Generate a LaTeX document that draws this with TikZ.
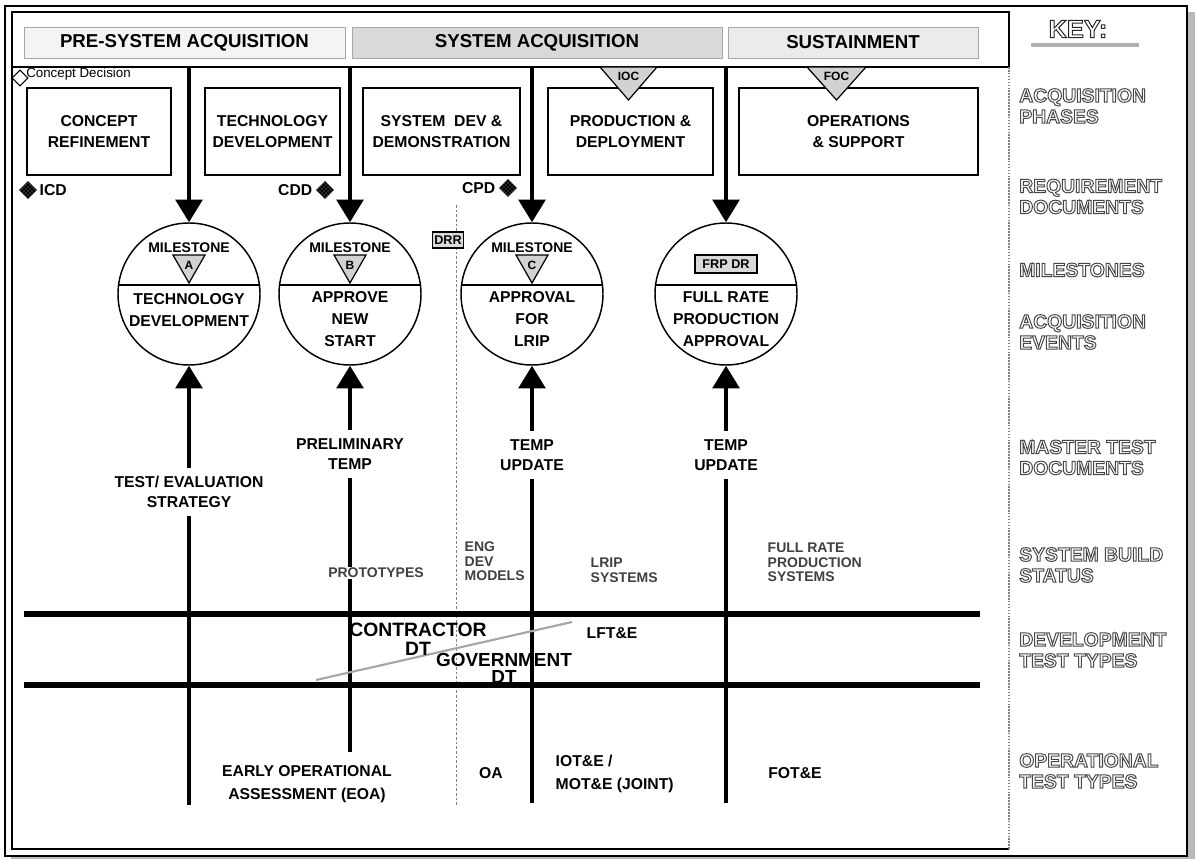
\documentclass[tikz,border=0pt]{standalone}
\usepackage{fontspec}
\setmainfont{Liberation Sans}
\usetikzlibrary{arrows.meta,calc,shapes.geometric,patterns}

% outlined (hollow) lettering for the key column
\newcommand\outl[1]{\special{pdf:literal direct 1 Tr 0.75 w}#1\special{pdf:literal direct 0 Tr 1 w}}

\tikzset{
  band/.style={draw=gray!70, minimum height=23.25pt, font=\bfseries\fontsize{14}{16}\selectfont},
  phase/.style={draw, line width=1.1pt, minimum height=65.25pt, align=center, font=\bfseries\fontsize{11.8}{15.75}\selectfont},
  milestone/.style={circle, draw, line width=1.1pt, minimum size=106.5pt, inner sep=0pt},
  bigarrow/.style={line width=3pt, -{Triangle[width=20pt,length=17pt]}},
  evt/.style={align=center, font=\bfseries\fontsize{11.8}{16.5}\selectfont},
  lbl/.style={align=center, font=\bfseries\fontsize{11.8}{15}\selectfont},
  build/.style={align=left, text=black!75, font=\bfseries\fontsize{10.5}{10.9}\selectfont},
  keytxt/.style={anchor=west, align=left, inner sep=0pt, text=black!72, font=\bfseries\fontsize{14.5}{15.75}\selectfont},
  reqdoc/.style={diamond, draw, fill=black, inner sep=0pt, minimum size=12.75pt, postaction={pattern=crosshatch dots, pattern color=white!70!black}},
  testline/.style={line width=3pt},
  dtline/.style={line width=5pt},
  gatebox/.style={draw, line width=0.9pt, fill=gray!30, inner sep=1.5pt, font=\bfseries\fontsize{9.5}{10}\selectfont},
}

\begin{document}
\begin{tikzpicture}[x=0.75pt,y=-0.75pt]
  \useasboundingbox (0,0) rectangle (1195,859);
  % frame and shadow
  \fill[gray!55] (11,12) rectangle (1195,859);
  \draw[line width=1.3pt, fill=white] (5,6) rectangle (1187,856);
  \draw[line width=1.5pt] (1009,67) -- (1009,12) -- (12,12) -- (12,849) -- (1009,849);
  \draw[line width=1.5pt] (12,67) -- (1009,67);
  \draw[gray, line width=1.2pt, densely dotted] (1009,67) -- (1009,849);

  % acquisition bands
  \node[band, fill=gray!9, minimum width=240.75pt] (pre) at (184.5,42.5) {PRE-SYSTEM ACQUISITION};
  \node[band, fill=gray!30, minimum width=277.5pt] (sys) at (537,42.5) {SYSTEM ACQUISITION};
  \node[band, fill=gray!16, minimum width=187.5pt] (sus) at (853,42.5) {SUSTAINMENT};

  % phases
  \node[phase, minimum width=108pt] (cr) at (99,131.5) {CONCEPT\\REFINEMENT};
  \node[phase, minimum width=101.25pt] (td) at (272.5,131.5) {TECHNOLOGY\\DEVELOPMENT};
  \node[phase, minimum width=117.75pt] (sdd) at (441.5,131.5) {SYSTEM\ \ DEV \&\\DEMONSTRATION};
  \node[phase, minimum width=123.75pt] (pd) at (630.5,131.5) {PRODUCTION \&\\DEPLOYMENT};
  \node[phase, minimum width=179.25pt] (os) at (858.5,131.5) {OPERATIONS\\\& SUPPORT};

  % IOC / FOC
  \draw[fill=gray!35, line width=0.9pt] (600,67) -- (657,67) -- (628.5,100) -- cycle;
  \node[font=\bfseries\fontsize{9}{10}\selectfont] (ioc) at (628.5,76) {IOC};
  \draw[fill=gray!35, line width=0.9pt] (807,67) -- (866,67) -- (836.5,100) -- cycle;
  \node[font=\bfseries\fontsize{9}{10}\selectfont] (foc) at (836.5,76) {FOC};

  % concept decision
  \node[diamond, draw, fill=white, line width=0.8pt, minimum size=12pt, inner sep=0pt] (cd) at (20,78) {};
  \node[anchor=west, inner sep=0pt, font=\fontsize{10}{12}\selectfont] (cdt) at (26,74) {Concept Decision};

  % requirement documents
  \node[reqdoc] (icdm) at (28,190) {};
  \node[lbl, anchor=west] (icd) at (35,190) {ICD};
  \node[reqdoc] (cddm) at (325,190) {};
  \node[lbl, anchor=east] (cdd) at (317,190) {CDD};
  \node[reqdoc] (cpdm) at (508,188) {};
  \node[lbl, anchor=east] (cpd) at (500,188) {CPD};

  % system dev split
  \coordinate (sdTop) at (456,205);
  \coordinate (sdBot) at (456,805);
  \draw[gray, line width=0.6pt, dash pattern=on 2pt off 1.5pt] (sdTop) -- (sdBot);
  \node[gatebox, minimum width=21pt, minimum height=12pt] (drr) at (448,240) {DRR};

  % milestones
  \node[milestone] (msA) at (189,294) {};
  \node[milestone] (msB) at (350,294) {};
  \node[milestone] (msC) at (532,294) {};
  \node[milestone] (msD) at (726,294) {};
  \foreach \m in {A,B,C,D}
    \draw[line width=1.1pt] ($(ms\m)+(-70.4,-9)$) -- ($(ms\m)+(70.4,-9)$);
  \foreach \m in {A,B,C} {
    \node[font=\bfseries\fontsize{10.5}{12}\selectfont] at ($(ms\m)+(0,-46)$) {MILESTONE};
    \draw[fill=gray!35, line width=0.9pt] ($(ms\m)+(-16,-39)$) -- ($(ms\m)+(16,-39)$) -- ($(ms\m)+(0,-11)$) -- cycle;
    \node[font=\bfseries\fontsize{9}{10}\selectfont] at ($(ms\m)+(0,-29)$) {\m};
  }
  \node[gatebox, minimum width=46.5pt, minimum height=13.5pt] (frp) at ($(msD)+(0,-30)$) {FRP DR};
  \node[evt] at ($(msA)+(0,16.5)$) {TECHNOLOGY\\DEVELOPMENT};
  \node[evt] at ($(msB)+(0,25)$) {APPROVE\\NEW\\START};
  \node[evt] at ($(msC)+(0,25)$) {APPROVAL\\FOR\\LRIP};
  \node[evt] at ($(msD)+(0,25)$) {FULL RATE\\PRODUCTION\\APPROVAL};

  % phase arrows
  \coordinate (hA) at (189,67);
  \coordinate (hB) at (350,67);
  \coordinate (hC) at (532,67);
  \coordinate (hD) at (726,67);
  \foreach \m in {A,B,C,D}
    \draw[bigarrow] (h\m) -- (ms\m.north);

  % master test documents
  \node[lbl] (tesA) at (189,492) {TEST/ EVALUATION\\STRATEGY};
  \node[lbl] (tmpB) at (350,454) {PRELIMINARY\\TEMP};
  \node[lbl] (tmpC) at (532,455) {TEMP\\UPDATE};
  \node[lbl] (tmpD) at (726,455) {TEMP\\UPDATE};
  \coordinate (eA) at (189,805);
  \coordinate (eB) at (350,752);
  \coordinate (eC) at (532,803);
  \coordinate (eD) at (726,803);
  \draw[bigarrow, shorten <=3pt] (tesA.north) -- (msA.south);
  \draw[bigarrow, shorten <=3pt] (tmpB.north) -- (msB.south);
  \draw[bigarrow, shorten <=3pt] (tmpC.north) -- (msC.south);
  \draw[bigarrow, shorten <=3pt] (tmpD.north) -- (msD.south);
  \draw[testline, shorten <=3pt] (tesA.south) -- (eA);
  \draw[testline, shorten <=3pt] (tmpB.south) -- (eB);
  \draw[testline, shorten <=3pt] (tmpC.south) -- (eC);
  \draw[testline, shorten <=3pt] (tmpD.south) -- (eD);

  % system build status
  \node[build, fill=white, inner sep=1pt] (proto) at (376,573) {PROTOTYPES};
  \node[build, anchor=west] (edm) at (460,561.5) {ENG\\DEV\\MODELS};
  \node[build, anchor=west] (lrip) at (586,570) {LRIP\\SYSTEMS};
  \node[build, anchor=west] (frps) at (763,562.5) {FULL RATE\\PRODUCTION\\SYSTEMS};

  % development test types
  \coordinate (dt1w) at (24,614);
  \coordinate (dt1e) at (980,614);
  \coordinate (dt2w) at (24,685);
  \coordinate (dt2e) at (980,685);
  \draw[dtline] (dt1w) -- (dt1e);
  \draw[dtline] (dt2w) -- (dt2e);
  \coordinate (dgA) at (316,680);
  \coordinate (dgB) at (572,622);
  \draw[gray!70, line width=1.6pt] (dgA) -- (dgB);
  \node[align=center, font=\bfseries\fontsize{14.5}{14.2}\selectfont] (cdt) at (418,639) {CONTRACTOR\\DT};
  \node[align=center, font=\bfseries\fontsize{14.2}{12.8}\selectfont] (gdt) at (504,668) {GOVERNMENT\\DT};
  \node[lbl] (lft) at (612,633) {LFT\&E};

  % operational test types
  \node[lbl, font=\bfseries\fontsize{11.8}{17.25}\selectfont] (eoa) at (307,784.5) {EARLY OPERATIONAL\\ASSESSMENT (EOA)};
  \node[lbl] (oa) at (491,773) {OA};
  \node[lbl, align=left, anchor=west, font=\bfseries\fontsize{11.8}{17.25}\selectfont] (iot) at (551,773.5) {IOT\&E /\\MOT\&E (JOINT)};
  \node[lbl] (fot) at (795,773) {FOT\&E};

  % key
  \node[text=black!85, font=\bfseries\fontsize{19}{20}\selectfont] (key) at (1078,29) {\outl{KEY:}};
  \draw[gray!60, line width=2.4pt] (1031,45) -- (1139,45);
  \node[keytxt] at (1019,106) {\outl{ACQUISITION\\PHASES}};
  \node[keytxt] at (1019,196.5) {\outl{REQUIREMENT\\DOCUMENTS}};
  \node[keytxt] at (1019,270) {\outl{MILESTONES}};
  \node[keytxt] at (1019,332) {\outl{ACQUISITION\\EVENTS}};
  \node[keytxt] at (1019,457.5) {\outl{MASTER TEST\\DOCUMENTS}};
  \node[keytxt] at (1019,565) {\outl{SYSTEM BUILD\\STATUS}};
  \node[keytxt] at (1019,650) {\outl{DEVELOPMENT\\TEST TYPES}};
  \node[keytxt] at (1019,771) {\outl{OPERATIONAL\\TEST TYPES}};
\end{tikzpicture}
\end{document}
